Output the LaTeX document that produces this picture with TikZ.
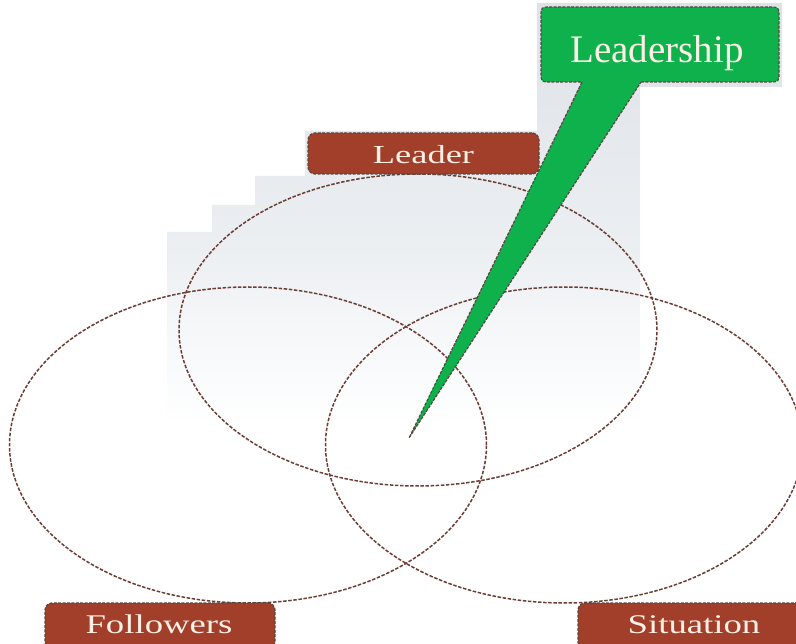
\documentclass[tikz,border=0pt]{standalone}
\usepackage{fontspec}
\setmainfont{Liberation Serif}
\usetikzlibrary{shapes.geometric}
\definecolor{bgtop}{HTML}{DDE2E7}
\definecolor{bgmid}{HTML}{ECEFF2}
\definecolor{bglow}{HTML}{F5F7F9}
\definecolor{boxbrown}{HTML}{A13F2A}
\definecolor{boxtext}{HTML}{FBEFE6}
\definecolor{leadgreen}{HTML}{0EB14C}
\definecolor{ringcol}{HTML}{6B3D33}
\definecolor{edgecol}{HTML}{5A4640}
\pgfdeclareverticalshading{bgfade}{100bp}{color(0bp)=(white); color(29.5bp)=(white); color(40bp)=(bglow); color(48.5bp)=(bgmid); color(75bp)=(bgtop); color(100bp)=(bgtop)}
\tikzset{
  ring/.style={draw=ringcol, line width=1.5pt, dash pattern=on 3.5pt off 1.6pt, ellipse, fill=none},
  labelbox/.style={fill=boxbrown, draw=edgecol, line width=1.2pt, dash pattern=on 3pt off 1.4pt,
     rounded corners=7pt},
  boxlabel/.style={text=boxtext, inner sep=0pt, anchor=base},
  calloutshape/.style={fill=leadgreen, draw=edgecol, line width=1.2pt, dash pattern=on 3pt off 1.4pt},
}
\begin{document}
\begin{tikzpicture}[x=1pt,y=-1pt]
\useasboundingbox (0,0) rectangle (796,644);
\clip (0,0) rectangle (796,644);
% background
\begin{scope}
\clip (167,520) -- (167,232) -- (212,232) -- (212,205) -- (255,205) -- (255,176) -- (305,176) -- (305,131) -- (537,131) -- (537,3) -- (782,3) -- (782,87) -- (640,87) -- (640,520) -- cycle;
\shade[shading=bgfade] (160,0) rectangle (790,470);
\end{scope}
% rings
\node[ring, minimum width=478pt, minimum height=312pt] (leaderring) at (418,330) {};
\node[ring, minimum width=477pt, minimum height=316pt] (followring) at (248,445) {};
\node[ring, minimum width=477pt, minimum height=316pt] (situring) at (564,445) {};
% label boxes
\node[labelbox, minimum width=231pt, minimum height=41pt] (leaderbox) at (423.5,153.5) {};
\node[boxlabel] (leader) at (423.5,164) {\fontsize{26}{30}\selectfont\scalebox{1.4}[1]{Leader}};
\node[labelbox, minimum width=230pt, minimum height=46pt] (followersbox) at (160,626) {};
\node[boxlabel] (followers) at (159,633) {\fontsize{27}{30}\selectfont\scalebox{1.36}[1]{Followers}};
\node[labelbox, minimum width=236pt, minimum height=46pt] (situationbox) at (696,626) {};
\node[boxlabel] (situation) at (694,633) {\fontsize{27}{30}\selectfont\scalebox{1.36}[1]{Situation}};
% callout
\coordinate (tip) at (409,438);
\draw[calloutshape] (641,82) -- (769,82) .. controls (779,82) .. (779,72) -- (779,17) .. controls (779,7) .. (769,7)
  -- (551,7) .. controls (541,7) .. (541,17) -- (541,72) .. controls (541,82) .. (551,82) -- (582,82) -- (tip) -- cycle;
\node[boxlabel] (leadership) at (657,63) {\fontsize{39}{44}\selectfont Leadership};
\end{tikzpicture}
\end{document}
